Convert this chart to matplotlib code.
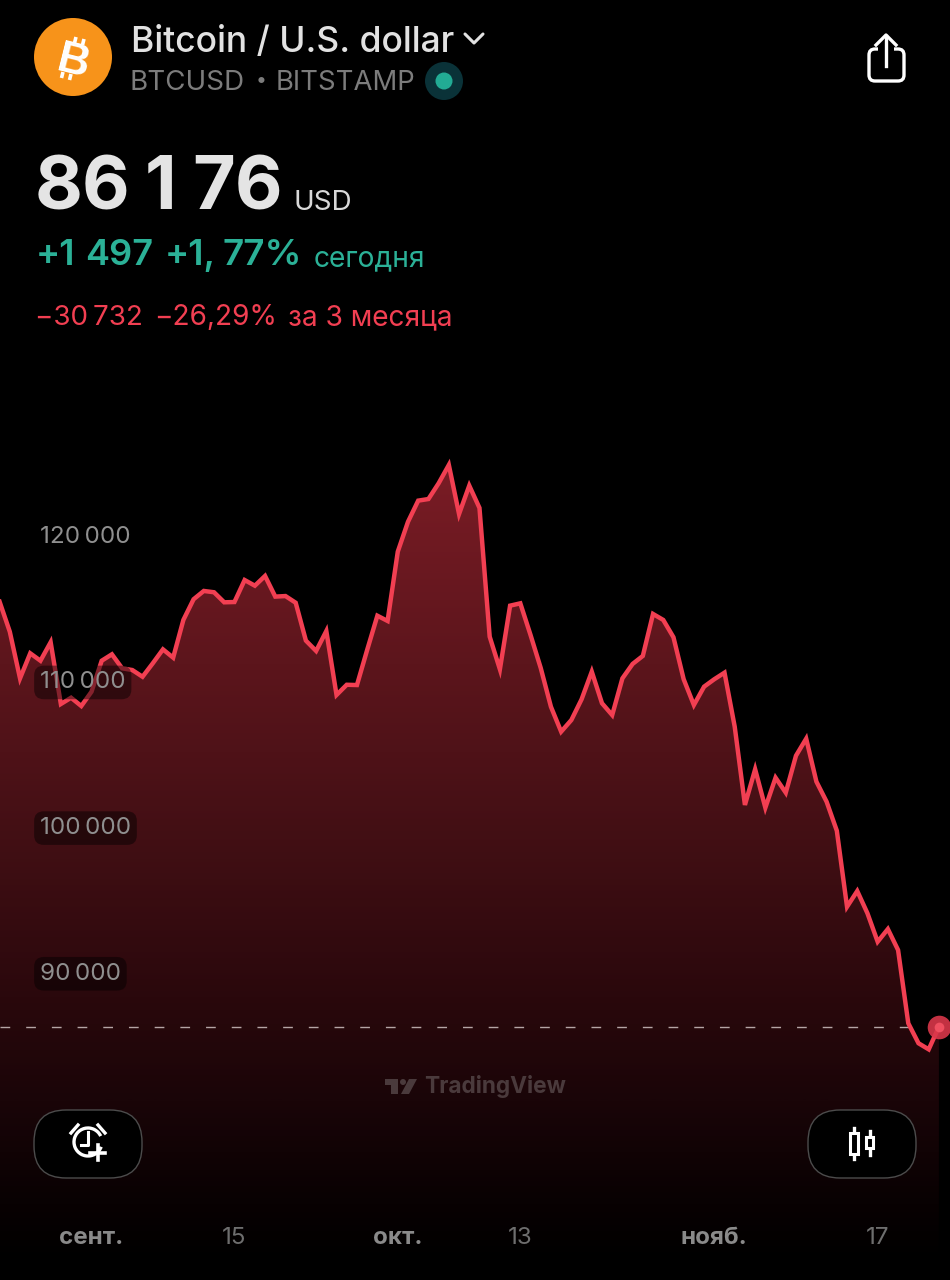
import numpy as np
import matplotlib
matplotlib.use("Agg")
import matplotlib.pyplot as plt
from matplotlib.colors import LinearSegmentedColormap
from matplotlib.patches import Circle, FancyBboxPatch, Rectangle, Arc, Polygon
from matplotlib.transforms import blended_transform_factory

# precios diarios BTCUSD
precios = [
    115350, 113290, 110090, 111810, 111300, 112570, 108330, 108760, 108190, 109170,
    111300, 111740, 110780, 110660, 110200, 111120, 112080, 111510, 114100, 115520,
    116090, 116000, 115310, 115330, 116840, 116450, 117120, 115700, 115740, 115280,
    112680, 111970, 113340, 108950, 109650, 109630, 112040, 114390, 114030, 118790,
    120840, 122290, 122400, 123480, 124740, 121370, 123320, 121790, 112950, 110710,
    115080, 115240, 113070, 110800, 108140, 106430, 107230, 108650, 110550, 108380,
    107570, 110090, 111080, 111630, 114510, 114100, 112910, 110030, 108260, 109520,
    110030, 110480, 106770, 101400, 103850, 101210, 103270, 102240, 104780, 105950,
    103000, 101620, 99630, 94410, 95490, 93960, 92010, 92880, 91440, 86410,
    85040, 84620, 86176,
]
dias = list(range(len(precios)))
precio_actual = 86176

etiquetas_y = [120000, 110000, 100000, 90000]
textos_y = ["120\u2009000", "110\u2009000", "100\u2009000", "90\u2009000"]
dias_x = [9, 23, 39, 51, 70, 86]
textos_x = ["сент.", "15", "окт.", "13", "нояб.", "17"]
meses_x = [True, False, True, False, True, False]

FUENTE = ["Inter", "Roboto", "DejaVu Sans"]
plt.rcParams["font.family"] = FUENTE

ROJO = "#f23f52"
VERDE = "#2bb197"

fig = plt.figure(figsize=(9.5, 12.8), dpi=100, facecolor="black")

# eje del grafico: ocupa toda la figura, con la escala de los datos
px_x0, px_dia = -0.4, 10.21
px_y90, px_por_usd = 971.0, 0.014567
ax = fig.add_axes([0, 0, 1, 1], facecolor="black")
ax.set_xlim((0 - px_x0) / px_dia, (950 - px_x0) / px_dia)
ax.set_ylim(90000 + (px_y90 - 1280) / px_por_usd, 90000 + px_y90 / px_por_usd)
ax.axis("off")

# eje en pixeles para la interfaz (texto e iconos)
ui = fig.add_axes([0, 0, 1, 1], facecolor="none")
ui.set_xlim(0, 950)
ui.set_ylim(1280, 0)
ui.axis("off")

# relleno con degradado recortado bajo la linea
relleno = ax.fill_between(dias, precios, ax.get_ylim()[0], color="none", lw=0)
cmap = LinearSegmentedColormap.from_list("rojo", [
    (0.0, "#7a1c25"), (0.25, "#5c151c"), (0.47, "#420f14"),
    (0.67, "#2a080c"), (0.8, "#1a0508"), (0.93, "#080102"), (1.0, "#000000"),
])
grad = np.linspace(0, 1, 400).reshape(-1, 1)
y_arriba = 90000 + (px_y90 - 465) / px_por_usd
y_abajo = 90000 + (px_y90 - 1262) / px_por_usd
img = ax.imshow(grad, cmap=cmap, aspect="auto", extent=(0, 92, y_abajo, y_arriba), zorder=1)
img.set_clip_path(relleno.get_paths()[0], transform=ax.transData)
ax.set_xlim((0 - px_x0) / px_dia, (950 - px_x0) / px_dia)
ax.set_ylim(90000 + (px_y90 - 1280) / px_por_usd, 90000 + px_y90 / px_por_usd)

ax.plot(dias, precios, color=ROJO, lw=3.2, solid_joinstyle="miter", zorder=3)
ax.plot([ax.get_xlim()[0], 90.5], [precio_actual, precio_actual], color="#b5a5a5", lw=1,
        dashes=(7, 11.5), zorder=2)
ax.plot(dias[-1], precios[-1], "o", ms=17, color="#d9374a", mec="none", alpha=0.9, zorder=4)
ax.plot(dias[-1], precios[-1], "o", ms=7, color="#ef4f60", mec="none", zorder=5)

# etiquetas del eje y
for valor, texto in zip(etiquetas_y, textos_y):
    ax.annotate(texto, (3.95, valor), xytext=(0, -2), textcoords="offset points", color="#8f8f8f", fontsize=17.4,
                ha="left", va="center", zorder=6,
                bbox=dict(boxstyle="round,pad=0.24,rounding_size=0.4", fc=(0, 0, 0, 0.45), ec="none"))

# etiquetas del eje x
trans_x = blended_transform_factory(ax.transData, ui.transData)
for dia, texto, es_mes in zip(dias_x, textos_x, meses_x):
    ax.text(dia, 1238, texto, transform=trans_x, ha="center", va="center", fontsize=17.4,
            color="#8a8a8a" if es_mes else "#6e6e6e", fontweight="bold" if es_mes else "normal", zorder=6)

# cabecera
ui.add_patch(Circle((73, 57), 39, color="#f7931a", lw=0))
ui.text(73, 63, "B", color="white", fontsize=32, fontweight="bold", rotation=-14, rotation_mode="anchor",
        ha="center", va="center", family=["Liberation Sans", "DejaVu Sans"])
for x, y in [(76, 37), (84, 39), (63, 72), (71, 74)]:
    ui.plot([x, x - 1.5], [y, y + 6], color="white", lw=2.6, solid_capstyle="butt")

ui.text(131, 52, "Bitcoin / U.S. dollar", color="#e2e2e2", fontsize=25.5, fontweight="medium", va="baseline")
ui.plot([465, 474, 483], [34, 43, 34], color="#e2e2e2", lw=2.2, solid_capstyle="round")
ui.text(130, 90, "BTCUSD", color="#7c7c7c", fontsize=20, va="baseline")
ui.text(261, 81, "•", color="#7c7c7c", fontsize=14, va="center", ha="center")
ui.text(276, 90, "BITSTAMP", color="#7c7c7c", fontsize=19.8, va="baseline")
ui.add_patch(Circle((444, 81), 19, color="#0a3238", lw=0))
ui.add_patch(Circle((444, 81), 8.5, color="#22ab94", lw=0))

# cifras colocadas por partes: el "1" de la captura es mas ancho que en Inter
ui.text(35, 209, "86", color="#e4e4e4", fontsize=53, fontweight="bold", va="baseline")
ui.text(145, 209, "1", color="#e4e4e4", fontsize=53, fontweight="bold", va="baseline")
ui.text(192, 209, "76", color="#e4e4e4", fontsize=53, fontweight="bold", va="baseline")
ui.text(293, 210, "USD", color="#d8d8d8", fontsize=20, va="baseline")

ui.text(36, 265, "+1", color=VERDE, fontsize=26, fontweight="semibold", va="baseline")
ui.text(85, 265, "497", color=VERDE, fontsize=26, fontweight="semibold", va="baseline")
ui.text(165, 265, "+1,", color=VERDE, fontsize=26, fontweight="semibold", va="baseline")
ui.text(222, 265, "77%", color=VERDE, fontsize=26.5, fontweight="semibold", va="baseline")
ui.text(314, 266, "сегодня", color=VERDE, fontsize=20.3, va="baseline")

ui.text(35, 325, "−30\u2009732", color=ROJO, fontsize=20, va="baseline")
ui.text(154, 325, "−26,29%", color=ROJO, fontsize=20.2, va="baseline")
ui.text(288, 325, "за 3 месяца", color=ROJO, fontsize=20.2, va="baseline")

# icono de compartir
ui.add_patch(FancyBboxPatch((869, 49), 35, 32, boxstyle="round,pad=0,rounding_size=6", fc="none",
                            ec="white", lw=2.4))
ui.add_patch(Rectangle((878, 44), 16, 12, color="black", lw=0))
ui.plot([886, 886], [36, 66], color="white", lw=2.4)
ui.plot([876, 886, 896], [45, 35, 45], color="white", lw=2.4)

# botones
for x0 in [34, 808]:
    ui.add_patch(FancyBboxPatch((x0, 1110), 108, 68, boxstyle="round,pad=0,rounding_size=32", fc="black",
                                ec="#4c4c4c", lw=1, zorder=7))

# alarma
ui.add_patch(Arc((88, 1142), 28, 28, theta1=20, theta2=335, color="white", lw=2.4, zorder=8))
ui.plot([88, 88, 81], [1132, 1145, 1145], color="white", lw=2.2, zorder=8)
ui.plot([71, 78], [1133, 1125], color="white", lw=2.4, zorder=8)
ui.plot([98, 105], [1125, 1133], color="white", lw=2.4, zorder=8)
ui.plot([90, 105], [1153, 1153], color="white", lw=2.6, zorder=8)
ui.plot([97.5, 97.5], [1145, 1160], color="white", lw=2.6, zorder=8)

# velas
ui.add_patch(Rectangle((850, 1133), 8, 21, fc="black", ec="white", lw=2.2, zorder=8))
ui.plot([854, 854], [1128, 1159], color="white", lw=2.4, zorder=7.5)
ui.add_patch(Rectangle((866, 1137), 7, 11, fc="black", ec="white", lw=2.2, zorder=8))
ui.plot([869.5, 869.5], [1131, 1155], color="white", lw=2.4, zorder=7.5)

# marca de agua
ui.text(424, 1087, "TradingView", color="#4a3a3c", fontsize=16.3, fontweight="bold", va="center", zorder=2)
ui.add_patch(Rectangle((385, 1079), 13, 6, color="#4a3a3c", lw=0))
ui.add_patch(Rectangle((391, 1079), 7, 15, color="#4a3a3c", lw=0))
ui.add_patch(Circle((403, 1082), 3, color="#4a3a3c", lw=0))
ui.add_patch(Polygon([(409, 1079), (417, 1079), (409, 1094), (401, 1094)], color="#4a3a3c", lw=0))

fig.savefig("out.png", dpi=100, facecolor="black")
